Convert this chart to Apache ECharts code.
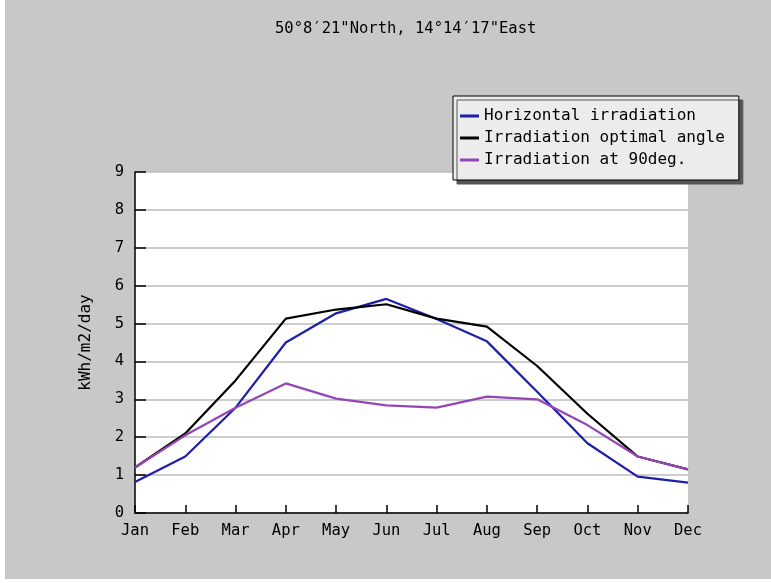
<!DOCTYPE html>
<html>
<head>
<meta charset="utf-8">
<script src="https://cdn.jsdelivr.net/npm/echarts@6/dist/echarts.min.js"></script>
<style>
html,body{margin:0;padding:0;background:#ffffff;}
#c{position:absolute;left:5px;top:0;width:766px;height:579px;}
</style>
</head>
<body>
<div id="c"></div>
<script>
const titleText = '50°8′21"North, 14°14′17"East';
const months = ['Jan','Feb','Mar','Apr','May','Jun','Jul','Aug','Sep','Oct','Nov','Dec'];
const yAxisName = 'kWh/m2/day';
const horizontal = [0.82, 1.49, 2.78, 4.5, 5.27, 5.65, 5.12, 4.53, 3.2, 1.84, 0.96, 0.8];
const optimal = [1.2, 2.1, 3.5, 5.13, 5.37, 5.51, 5.13, 4.92, 3.88, 2.62, 1.49, 1.15];
const vertical90 = [1.2, 2.05, 2.78, 3.42, 3.02, 2.84, 2.78, 3.07, 3.0, 2.32, 1.49, 1.15];
const seriesNames = ['Horizontal irradiation', 'Irradiation optimal angle', 'Irradiation at 90deg.'];

const FONT = 'DejaVu Sans Mono';
const chart = echarts.init(document.getElementById('c'));
chart.setOption({
  backgroundColor: '#c8c8c8',
  animation: false,
  textStyle: {fontFamily: FONT},
  graphic: [{
    type: 'text', left: 405 - 135, top: 21,
    style: {text: titleText, font: '15.5px "DejaVu Sans Mono"', fill: '#000', textAlign: 'left'}
  }],
  grid: {left: 130, right: 83, top: 172, bottom: 66, show: true, backgroundColor: '#ffffff', borderWidth: 0},
  legend: {
    orient: 'vertical', left: 448, top: 96,
    data: seriesNames,
    backgroundColor: '#ececec', borderColor: '#000', borderWidth: 1,
    shadowColor: '#555555', shadowOffsetX: 4, shadowOffsetY: 4, shadowBlur: 0,
    padding: [12, 14, 12, 7],
    itemWidth: 19, itemHeight: 3, itemGap: 6, icon: 'rect',
    textStyle: {fontFamily: FONT, fontSize: 16, color: '#000', lineHeight: 16}
  },
  xAxis: {
    type: 'category', data: months, boundaryGap: false,
    axisLine: {lineStyle: {color: '#000', width: 1.5}},
    axisTick: {inside: true, length: 8, alignWithLabel: true, lineStyle: {color: '#000', width: 1.5}},
    axisLabel: {fontFamily: FONT, fontSize: 15.5, color: '#000', margin: 10},
    splitLine: {show: false}
  },
  yAxis: {
    type: 'value', min: 0, max: 9, interval: 1,
    name: yAxisName, nameLocation: 'middle', nameGap: 41, nameRotate: 90,
    nameTextStyle: {fontFamily: FONT, fontSize: 16, color: '#000'},
    axisLine: {show: true, lineStyle: {color: '#000', width: 1.5}},
    axisTick: {show: true, inside: true, length: 11, lineStyle: {color: '#000', width: 1.5}},
    axisLabel: {fontFamily: FONT, fontSize: 15.5, color: '#000', margin: 11},
    splitLine: {show: true, lineStyle: {color: '#bdbdbd', width: 1.5}}
  },
  series: [
    {name: seriesNames[0], type: 'line', data: horizontal, symbol: 'none', color: '#1e1eaa', lineStyle: {width: 2.2}},
    {name: seriesNames[1], type: 'line', data: optimal, symbol: 'none', color: '#000000', lineStyle: {width: 2.2}},
    {name: seriesNames[2], type: 'line', data: vertical90, symbol: 'none', color: '#9446b4', lineStyle: {width: 2.2}}
  ]
});
</script>
</body>
</html>
